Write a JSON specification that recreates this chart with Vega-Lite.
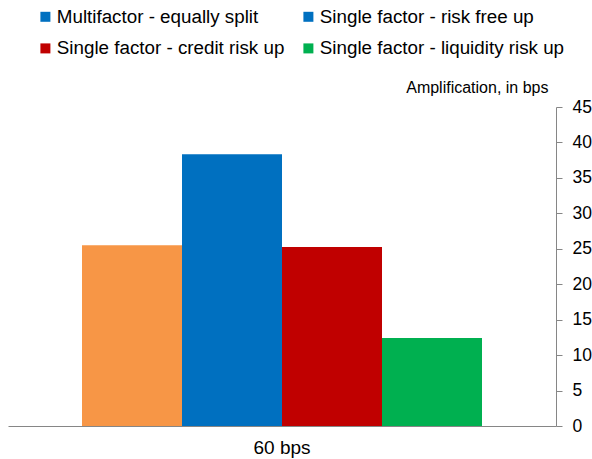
{
  "$schema": "https://vega.github.io/schema/vega-lite/v6.json",
  "width": 548,
  "height": 319,
  "autosize": "none",
  "padding": {"left": 8, "top": 107, "right": 36, "bottom": 33},
  "background": "white",
  "config": {
    "view": {"stroke": null},
    "font": "Liberation Sans",
    "axis": {"labelFont": "Liberation Sans", "titleFont": "Liberation Sans", "labelColor": "black", "titleColor": "black", "grid": false, "domainColor": "#868686", "tickColor": "#868686", "labelFontSize": 17.5, "titleFontSize": 16, "titleFontWeight": "normal"},
    "legend": {"labelFont": "Liberation Sans", "labelFontSize": 18.8, "labelColor": "black"}
  },
  "data": {
    "values": [
      {"group": "60 bps", "series": "Multifactor - equally split", "value": 25.5},
      {"group": "60 bps", "series": "Single factor - risk free up", "value": 38.35},
      {"group": "60 bps", "series": "Single factor - credit risk up", "value": 25.25},
      {"group": "60 bps", "series": "Single factor - liquidity risk up", "value": 12.4}
    ]
  },
  "mark": {"type": "bar"},
  "encoding": {
    "x": {
      "field": "group", "type": "nominal",
      "scale": {"paddingInner": 0, "paddingOuter": 0.185},
      "axis": {"title": null, "labelAngle": 0, "ticks": false, "labelPadding": 12, "labelFontSize": 19, "domainWidth": 1}
    },
    "xOffset": {
      "field": "series", "type": "nominal",
      "sort": ["Multifactor - equally split", "Single factor - risk free up", "Single factor - credit risk up", "Single factor - liquidity risk up"],
      "scale": {"paddingInner": 0, "paddingOuter": 0}
    },
    "y": {
      "field": "value", "type": "quantitative",
      "scale": {"domain": [0, 45], "nice": false},
      "axis": {
        "orient": "right", "values": [0, 5, 10, 15, 20, 25, 30, 35, 40, 45],
        "tickSize": 6, "labelPadding": 10, "labelAlign": "left",
        "title": "Amplification, in bps", "titleAngle": 0, "titleAlign": "right", "titleBaseline": "middle",
        "titleX": -8, "titleY": -20
      }
    },
    "color": {
      "field": "series", "type": "nominal",
      "condition": {"test": "datum.series === 'Multifactor - equally split'", "value": "#F79646"},
      "scale": {
        "domain": ["Multifactor - equally split", "Single factor - risk free up", "Single factor - credit risk up", "Single factor - liquidity risk up"],
        "range": ["#0070C0", "#0070C0", "#C00000", "#00B050"]
      },
      "legend": {
        "title": null, "orient": "none", "legendX": 28, "legendY": -100,
        "direction": "horizontal", "columns": 2, "columnPadding": 14, "rowPadding": 12,
        "symbolType": "square", "symbolSize": 100, "symbolStrokeWidth": 0, "labelOffset": 2, "padding": 0, "labelLimit": 0
      }
    }
  }
}
